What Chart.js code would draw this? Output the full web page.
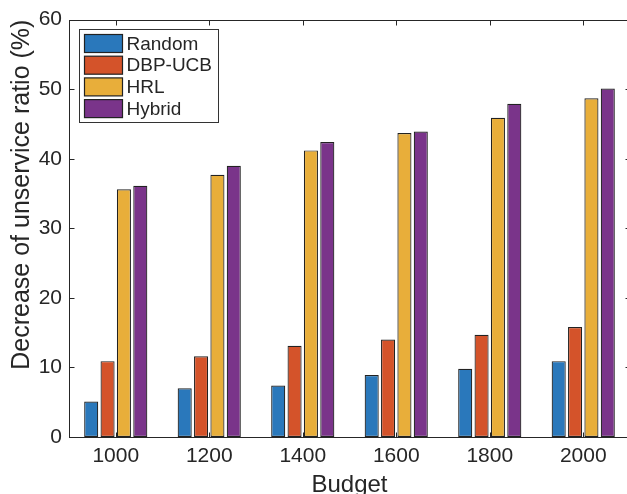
<!DOCTYPE html>
<html>
<head>
<meta charset="utf-8">
<script src="https://cdn.jsdelivr.net/npm/chart.js@4/dist/chart.umd.min.js"></script>
<style>
  html, body { margin: 0; padding: 0; background: #fff; overflow: hidden; }
  #wrap { width: 640px; height: 500px; }
</style>
</head>
<body>
<div id="wrap"><canvas id="c" width="640" height="500"></canvas></div>
<script>
const categories = ['1000', '1200', '1400', '1600', '1800', '2000'];
const seriesNames = ['Random', 'DBP-UCB', 'HRL', 'Hybrid'];
const randomVals = [5.1, 7.0, 7.4, 8.9, 9.8, 10.9];
const dbpUcbVals = [10.9, 11.6, 13.1, 14.0, 14.7, 15.8];
const hrlVals = [35.6, 37.7, 41.2, 43.7, 45.9, 48.7];
const hybridVals = [36.1, 39.0, 42.4, 43.9, 47.9, 50.1];
const yTicks = [0, 10, 20, 30, 40, 50, 60];

const colors = ['#2a78bb', '#d4532a', '#e8ae3a', '#7a348a'];
const FONT = "'Liberation Sans', Arial, Helvetica, sans-serif";
const AXIS = '#262626';

const frame = {
  id: 'frame',
  afterDatasetsDraw(chart) {
    const { ctx, chartArea, scales } = chart;
    const l = Math.round(chartArea.left) + 0.5, r = Math.round(chartArea.right) + 0.5;
    const t = Math.round(chartArea.top) + 0.5, b = Math.round(chartArea.bottom) + 0.5;
    ctx.save();
    ctx.strokeStyle = AXIS;
    ctx.lineWidth = 1;
    ctx.strokeRect(l, t, r - l, b - t);
    const tl = 5;
    ctx.beginPath();
    scales.x.ticks.forEach((tk, i) => {
      const px = Math.round(scales.x.getPixelForTick(i)) + 0.5;
      ctx.moveTo(px, b); ctx.lineTo(px, b - tl);
      ctx.moveTo(px, t); ctx.lineTo(px, t + tl);
    });
    yTicks.forEach(v => {
      const py = Math.round(scales.y.getPixelForValue(v)) + 0.5;
      ctx.moveTo(l, py); ctx.lineTo(l + tl, py);
      ctx.moveTo(r, py); ctx.lineTo(r - tl, py);
    });
    ctx.stroke();
    ctx.restore();
  },
  afterDraw(chart) {
    const { ctx, chartArea } = chart;
    const bx = Math.round(chartArea.left) + 10.5, by = Math.round(chartArea.top) + 9.5;
    const bw = 139, bh = 93;
    ctx.save();
    ctx.fillStyle = '#fff';
    ctx.fillRect(bx, by, bw, bh);
    ctx.strokeStyle = '#333';
    ctx.lineWidth = 1;
    ctx.strokeRect(bx, by, bw, bh);
    ctx.font = '19px ' + FONT;
    ctx.textBaseline = 'middle';
    ctx.textAlign = 'left';
    chart.data.datasets.forEach((ds, i) => {
      const cy = by + 14 + i * 21.7;
      ctx.fillStyle = ds.backgroundColor;
      ctx.fillRect(bx + 5, cy - 9, 38, 18);
      ctx.strokeStyle = '#222';
      ctx.lineWidth = 1.2;
      ctx.strokeRect(bx + 5, cy - 9, 38, 18);
      ctx.fillStyle = AXIS;
      ctx.fillText(ds.label, bx + 47, cy + 1);
    });
    ctx.restore();
  }
};

const valueLists = [randomVals, dbpUcbVals, hrlVals, hybridVals];

new Chart(document.getElementById('c'), {
  type: 'bar',
  data: {
    labels: categories,
    datasets: seriesNames.map((name, i) => ({
      label: name,
      data: valueLists[i],
      backgroundColor: colors[i],
      borderColor: '#222',
      borderWidth: 1.2,
      borderSkipped: false,
      categoryPercentage: 0.7,
      barPercentage: 0.86
    }))
  },
  options: {
    responsive: false,
    devicePixelRatio: 1,
    animation: false,
    layout: { padding: { top: 18, right: 10, left: 0, bottom: 0 } },
    plugins: { legend: { display: false }, tooltip: { enabled: false } },
    scales: {
      x: {
        grid: { display: false, drawTicks: false },
        border: { display: false },
        ticks: { color: AXIS, font: { family: FONT, size: 21 }, padding: 7, maxRotation: 0 },
        title: { display: true, text: 'Budget', color: AXIS, font: { family: FONT, size: 24 }, padding: { top: 0, bottom: 0 } },
        afterFit(scale) { scale.height = 63; }
      },
      y: {
        min: 0, max: 60,
        grid: { display: false, drawTicks: false },
        border: { display: false },
        ticks: { stepSize: 10, color: AXIS, font: { family: FONT, size: 21 }, padding: 7 },
        title: { display: true, text: 'Decrease of unservice ratio (%)', color: AXIS, align: 'end', font: { family: FONT, size: 25 }, padding: { top: 7, bottom: 0 } },
        afterFit(scale) { scale.width = 69; }
      }
    }
  },
  plugins: [frame]
});
</script>
</body>
</html>
